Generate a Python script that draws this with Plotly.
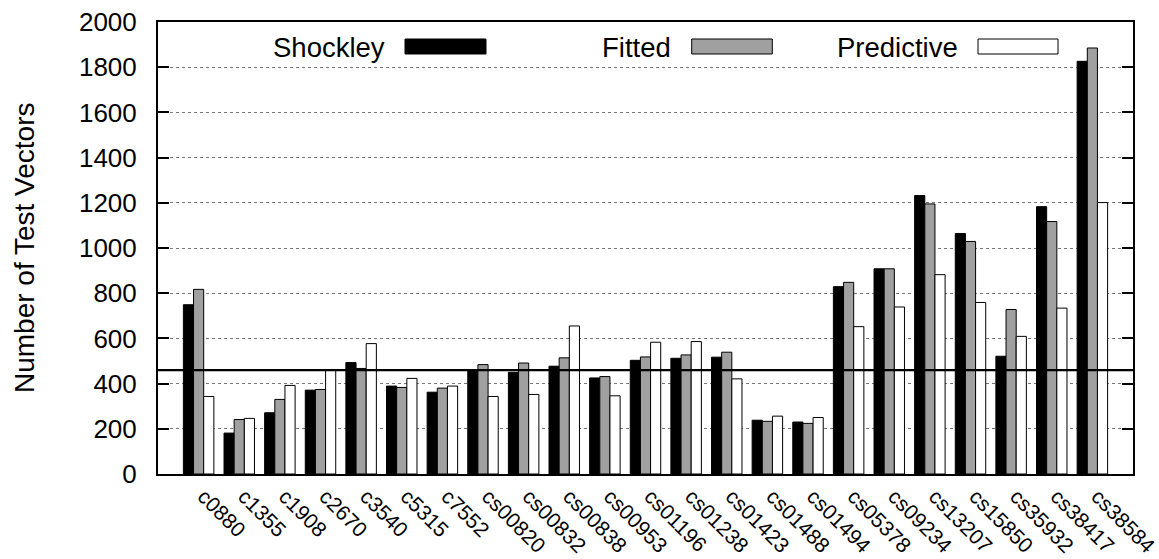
import plotly.graph_objects as go

# Benchmark circuits
circuits = ["c0880", "c1355", "c1908", "c2670", "c3540", "c5315", "c7552",
            "cs00820", "cs00832", "cs00838", "cs00953", "cs01196", "cs01238",
            "cs01423", "cs01488", "cs01494", "cs05378", "cs09234", "cs13207",
            "cs15850", "cs35932", "cs38417", "cs38584"]

# Number of test vectors per fault model
shockley = [749, 181, 271, 371, 493, 389, 362, 462, 450, 477, 425, 503, 512,
            517, 238, 230, 829, 908, 1232, 1064, 521, 1183, 1826]
fitted = [817, 241, 330, 374, 467, 383, 380, 484, 491, 514, 431, 518, 527,
          539, 233, 224, 848, 908, 1195, 1029, 728, 1117, 1885]
predictive = [343, 246, 392, 458, 577, 423, 389, 343, 352, 655, 346, 583, 586,
              421, 256, 250, 652, 739, 882, 759, 609, 734, 1201]

# Average reference level
reference_level = 460

y_ticks = [0, 200, 400, 600, 800, 1000, 1200, 1400, 1600, 1800, 2000]

FONT = "Liberation Sans, Arial, Helvetica, sans-serif"
W, H = 1159, 559
L, R, T, B = 158, 26, 22, 85
pw, ph = W - L - R, H - T - B


def px_x(x):
    return (x - L) / pw


def px_y(y):
    return (H - B - y) / ph


xs = list(range(len(circuits)))
series = [
    ("Shockley", shockley, "#000000"),
    ("Fitted", fitted, "#a0a0a0"),
    ("Predictive", predictive, "#ffffff"),
]

fig = go.Figure()
for name, vals, color in series:
    fig.add_trace(go.Bar(
        x=xs, y=vals, name=name,
        marker=dict(color=color, line=dict(color="#000000", width=1)),
    ))

fig.add_shape(type="line", xref="paper", yref="y", x0=0, x1=1,
              y0=reference_level, y1=reference_level,
              line=dict(color="#000000", width=2.2), layer="above")

# Key: label followed by a filled sample box
key = [
    ("Shockley", 386.7, 405, 486, "#000000"),
    ("Fitted", 673, 691.7, 772.3, "#a0a0a0"),
    ("Predictive", 960, 978, 1058, "#ffffff"),
]
for label, tx, bx0, bx1, color in key:
    fig.add_annotation(text=label, xref="paper", yref="paper",
                       x=px_x(tx), y=px_y(47), xanchor="right", yanchor="middle",
                       showarrow=False, font=dict(family=FONT, size=27.5, color="#000"))
    fig.add_shape(type="rect", xref="paper", yref="paper",
                  x0=px_x(bx0), x1=px_x(bx1), y0=px_y(54), y1=px_y(39),
                  fillcolor=color, line=dict(color="#000000", width=1))

fig.add_annotation(text="Number of Test Vectors", xref="paper", yref="paper",
                   x=px_x(24), y=px_y(248), textangle=-90,
                   xanchor="center", yanchor="middle", showarrow=False,
                   font=dict(family=FONT, size=28, color="#000"))

fig.update_layout(
    width=W, height=H,
    margin=dict(l=L, r=R, t=T, b=B, pad=0, autoexpand=False),
    plot_bgcolor="#ffffff", paper_bgcolor="#ffffff",
    barmode="group", bargap=0.25, bargroupgap=0,
    showlegend=False,
    font=dict(family=FONT, color="#000000"),
)
fig.update_xaxes(
    range=[-1, len(circuits)], tickmode="array", tickvals=xs, ticktext=circuits,
    tickangle=45, ticks="", showgrid=False, zeroline=False,
    showline=True, linecolor="#000000", linewidth=2, mirror=True,
    automargin=False, ticklabeloverflow="allow",
    ticklabelstandoff=0, ticklabelshift=5,
    tickfont=dict(family=FONT, size=21, color="#000"),
)
fig.update_yaxes(
    range=[0, 2000], tickmode="array", tickvals=y_ticks,
    ticks="inside", ticklen=11, tickwidth=2, tickcolor="#000000",
    showline=True, linecolor="#000000", linewidth=2, mirror="ticks",
    showgrid=True, gridcolor="#777777", griddash="dot", gridwidth=1,
    zeroline=False, ticklabelstandoff=14, automargin=False,
    tickfont=dict(family=FONT, size=26, color="#000"),
)

fig.write_html("out.html")
